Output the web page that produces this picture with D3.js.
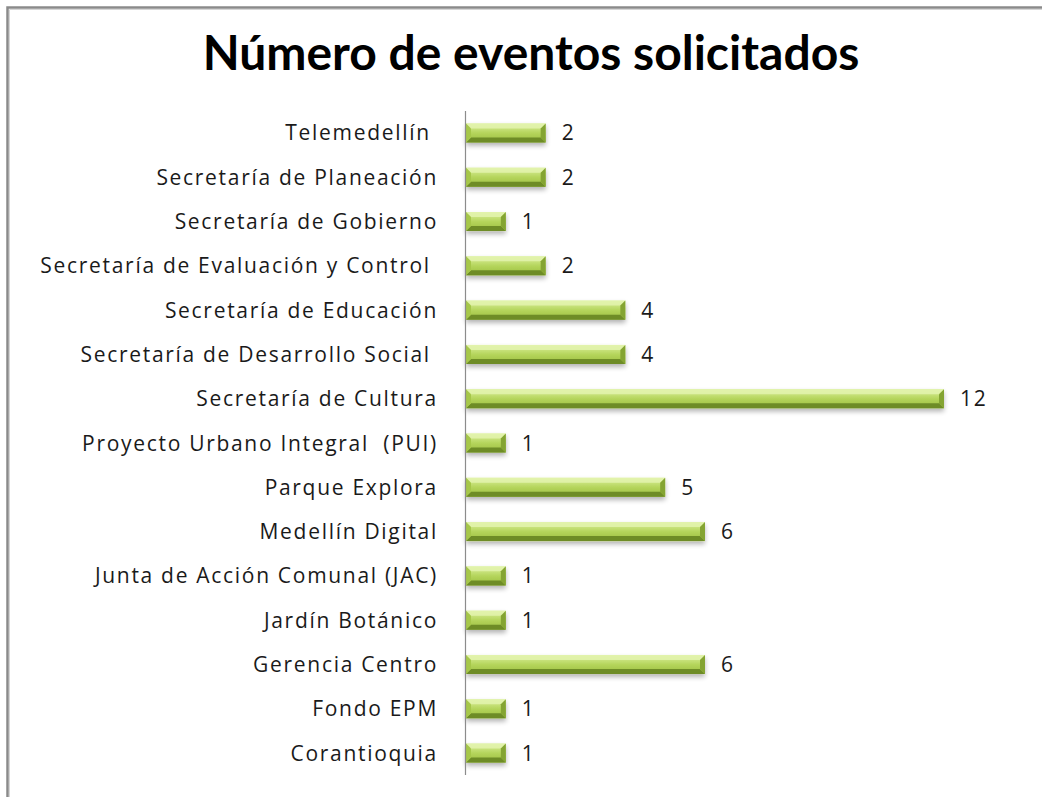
<!DOCTYPE html>
<html>
<head>
<meta charset="utf-8">
<script src="https://cdn.jsdelivr.net/npm/d3@7"></script>
<style>
  body { margin: 0; background: #fff; }
  svg { display: block; }
</style>
</head>
<body>
<div id="chart"></div>
<script>
// categories top to bottom, as in the picture
var categories = [
  "Telemedellín ",
  "Secretaría de Planeación",
  "Secretaría de Gobierno",
  "Secretaría de Evaluación y Control ",
  "Secretaría de Educación",
  "Secretaría de Desarrollo Social ",
  "Secretaría de Cultura",
  "Proyecto Urbano Integral  (PUI)",
  "Parque Explora",
  "Medellín Digital",
  "Junta de Acción Comunal (JAC)",
  "Jardín Botánico",
  "Gerencia Centro",
  "Fondo EPM",
  "Corantioquia"
];
var values = [2, 2, 1, 2, 4, 4, 12, 1, 5, 6, 1, 1, 6, 1, 1];
var title = "Número de eventos solicitados";

var width = 1042,
  height = 797,
  axisX = 466,
  plotTop = 111,
  plotBottom = 775;

var data = categories.map(function(c, i) {
  return { name: c, value: values[i] };
});

var svg = d3.select("#chart")
  .append("svg")
  .attr("width", width)
  .attr("height", height);

// frame of the chart area
svg.append("rect")
  .attr("x", 7.5).attr("y", 7.5)
  .attr("width", width + 20).attr("height", height + 20)
  .attr("fill", "none")
  .attr("stroke", "#8a8a8a")
  .attr("stroke-width", 2.5);
svg.append("path")
  .attr("d", "M9.5," + (height + 20) + "V9.5H" + (width + 20))
  .attr("fill", "none")
  .attr("stroke", "#d6d6d6")
  .attr("stroke-width", 1);

// gradients for the bevelled bars
var defs = svg.append("defs");
var g1 = defs.append("linearGradient")
  .attr("id", "barFill")
  .attr("x1", 0).attr("y1", 0).attr("x2", 0).attr("y2", 1);
g1.append("stop").attr("offset", "0%").attr("stop-color", "#dcf09e");
g1.append("stop").attr("offset", "50%").attr("stop-color", "#b5d55c");
g1.append("stop").attr("offset", "100%").attr("stop-color", "#9bbd3e");

var shadow = defs.append("filter")
  .attr("id", "shadow")
  .attr("x", "-10%").attr("y", "-40%")
  .attr("width", "120%").attr("height", "200%");
shadow.append("feGaussianBlur").attr("in", "SourceAlpha").attr("stdDeviation", 2.5);
shadow.append("feOffset").attr("dx", 0).attr("dy", 3).attr("result", "off");
shadow.append("feComponentTransfer").append("feFuncA").attr("type", "linear").attr("slope", 0.3);
var merge = shadow.append("feMerge");
merge.append("feMergeNode");
merge.append("feMergeNode").attr("in", "SourceGraphic");

var x = d3.scaleLinear()
  .domain([0, 12])
  .range([axisX, 944]);

var y = d3.scaleBand()
  .domain(categories)
  .range([plotTop, plotBottom])
  .paddingInner(0.57)
  .paddingOuter(0.28);

// title
svg.append("text")
  .attr("x", 531)
  .attr("y", 70)
  .attr("text-anchor", "middle")
  .style("font-family", "Lato, 'Open Sans', sans-serif")
  .style("font-weight", "bold")
  .style("font-size", "48px")
  .attr("fill", "#000")
  .text(title);

// bars
var bev = 5;
var bars = svg.selectAll(".bar")
  .data(data)
  .enter()
  .append("g")
  .attr("class", "bar")
  .attr("filter", "url(#shadow)");

bars.append("rect")
  .attr("x", x(0))
  .attr("y", function(d) { return y(d.name); })
  .attr("width", function(d) { return x(d.value) - x(0); })
  .attr("height", y.bandwidth())
  .attr("fill", "url(#barFill)");

// top bevel (light)
bars.append("path")
  .attr("d", function(d) {
    var x0 = x(0), x1 = x(d.value), y0 = y(d.name);
    return "M" + x0 + "," + y0 + "H" + x1 + "L" + (x1 - bev) + "," + (y0 + bev) +
      "H" + (x0 + bev) + "Z";
  })
  .attr("fill", "#e3f3ae")
  .attr("opacity", 0.85);

// bottom bevel (dark)
bars.append("path")
  .attr("d", function(d) {
    var x0 = x(0), x1 = x(d.value), y1 = y(d.name) + y.bandwidth();
    return "M" + x0 + "," + y1 + "H" + x1 + "L" + (x1 - bev) + "," + (y1 - bev) +
      "H" + (x0 + bev) + "Z";
  })
  .attr("fill", "#6e8c28");

// right bevel
bars.append("path")
  .attr("d", function(d) {
    var x1 = x(d.value), y0 = y(d.name), y1 = y0 + y.bandwidth();
    return "M" + x1 + "," + y0 + "V" + y1 + "L" + (x1 - bev) + "," + (y1 - bev) +
      "V" + (y0 + bev) + "Z";
  })
  .attr("fill", "#84a432");

// left bevel
bars.append("path")
  .attr("d", function(d) {
    var x0 = x(0), y0 = y(d.name), y1 = y0 + y.bandwidth();
    return "M" + x0 + "," + y0 + "V" + y1 + "L" + (x0 + bev) + "," + (y1 - bev) +
      "V" + (y0 + bev) + "Z";
  })
  .attr("fill", "#a6c74a");

// axis line
svg.append("line")
  .attr("x1", axisX - 0.5).attr("x2", axisX - 0.5)
  .attr("y1", plotTop).attr("y2", plotBottom)
  .attr("stroke", "#8c8c8c")
  .attr("stroke-width", 1.2);

// category labels
svg.selectAll(".cat")
  .data(data)
  .enter()
  .append("text")
  .attr("class", "cat")
  .attr("x", 438)
  .attr("y", function(d) { return y(d.name) + y.bandwidth() / 2; })
  .attr("dy", "0.36em")
  .attr("text-anchor", "end")
  .style("white-space", "pre")
  .style("letter-spacing", "1.7px")
  .style("font-family", "'Open Sans', sans-serif")
  .style("font-size", "21px")
  .attr("fill", "#1a1a1a")
  .text(function(d) { return d.name; });

// value labels
svg.selectAll(".val")
  .data(data)
  .enter()
  .append("text")
  .attr("class", "val")
  .attr("x", function(d) { return x(d.value) + 16; })
  .attr("y", function(d) { return y(d.name) + y.bandwidth() / 2; })
  .attr("dy", "0.36em")
  .style("letter-spacing", "1.7px")
  .style("font-family", "'Open Sans', sans-serif")
  .style("font-size", "21px")
  .attr("fill", "#1a1a1a")
  .text(function(d) { return d.value; });
</script>
</body>
</html>
